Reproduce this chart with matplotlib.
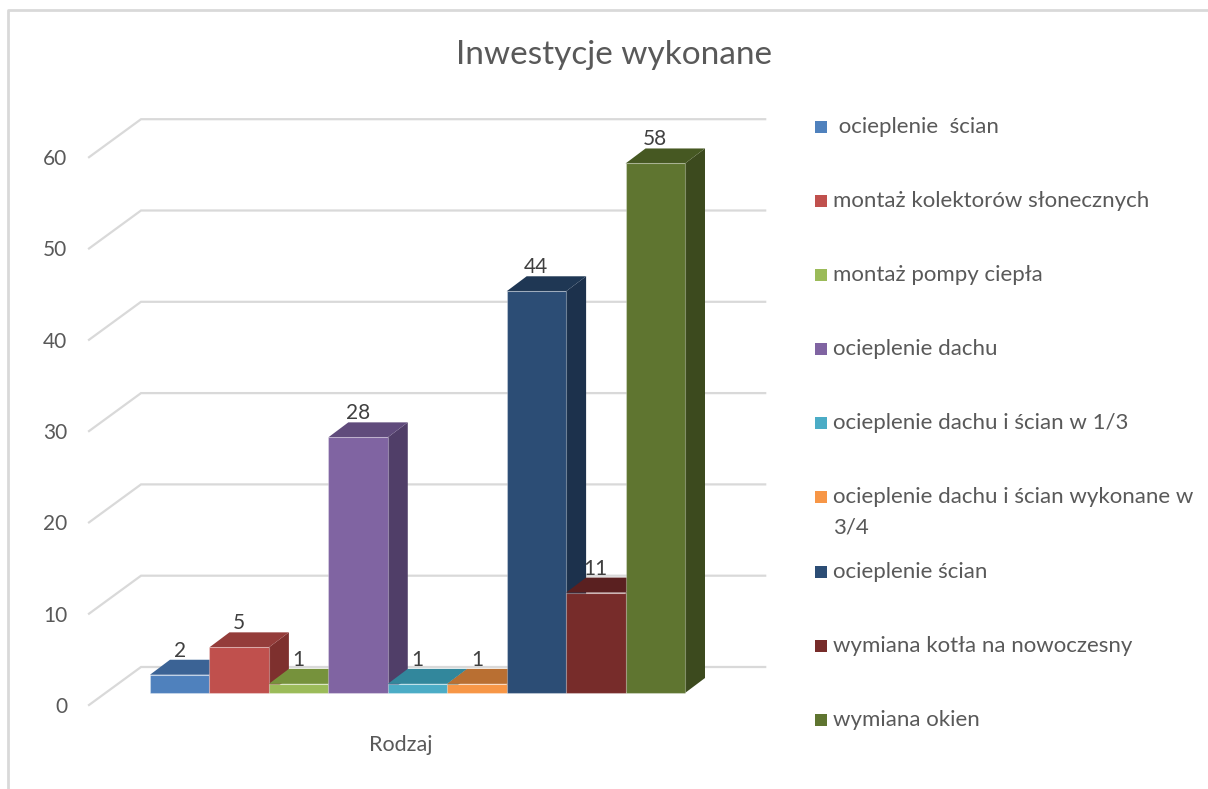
import matplotlib
matplotlib.use("Agg")
import matplotlib.pyplot as plt
from matplotlib.patches import Rectangle, Polygon
from matplotlib.lines import Line2D
from matplotlib.transforms import Affine2D, offset_copy

# ---- data -------------------------------------------------------------
title = "Inwestycje wykonane"
category = "Rodzaj"
series_names = [
    " ocieplenie  ścian",
    "montaż kolektorów słonecznych",
    "montaż pompy ciepła",
    "ocieplenie dachu",
    "ocieplenie dachu i ścian w 1/3",
    "ocieplenie dachu i ścian wykonane w\n3/4",
    "ocieplenie ścian",
    "wymiana kotła na nowoczesny",
    "wymiana okien",
]
values = [2, 5, 1, 28, 1, 1, 44, 11, 58]
y_ticks = [0, 10, 20, 30, 40, 50, 60]

front_colors = ["#4F81BD", "#C0504D", "#9BBB59", "#8064A2", "#4BACC6",
                "#F79646", "#2C4D75", "#772C2A", "#5F7530"]
top_colors = ["#3B6395", "#943C3A", "#76923C", "#604B7C", "#32879C",
              "#B96F32", "#1F3754", "#5A2020", "#465822"]
side_colors = ["#365C88", "#7E302E", "#67803A", "#503E68", "#2E7A8E",
               "#A5612B", "#1C314C", "#4E1C1B", "#3C4A1E"]

FONT = ["Lato", "DejaVu Sans"]
TXT = "#595959"

# ---- figure & helpers -------------------------------------------------
W, H = 1208, 789
fig = plt.figure(figsize=(W / 100, H / 100), dpi=100)
fig.patch.set_facecolor("white")
PX = Affine2D().scale(1 / W, -1 / H).translate(0, 1) + fig.transFigure

# plotting plane = front faces of the columns
x_left, x_right = 150, 685
y_base = 693
px_per_unit = 9.13
ymax = 60
n = len(values)
ax = fig.add_axes([x_left / W, (H - y_base) / H,
                   (x_right - x_left) / W, ymax * px_per_unit / H])
ax.set_xlim(0, n)
ax.set_ylim(0, ymax)
ax.axis("off")
px_per_slot = (x_right - x_left) / n


def depth(dx, dy):
    """screen-pixel oblique offset -> data offset"""
    return dx / px_per_slot, -dy / px_per_unit


bar_d = depth(20, -15)       # column depth
floor_front = depth(-16.4, 12)
back_wall = depth(35.6, -26)
gap = 0.75
L, R = -gap, n + gap

# ---- walls / gridlines ------------------------------------------------
for v in y_ticks:
    xs = [L + floor_front[0], L + back_wall[0], R + back_wall[0]]
    ys = [v + floor_front[1], v + back_wall[1], v + back_wall[1]]
    ax.plot(xs, ys, color="#D9D9D9", lw=1.6, clip_on=False, zorder=0,
            solid_joinstyle="miter")
    ax.text(L + floor_front[0], v + floor_front[1], str(v),
            transform=offset_copy(ax.transData, fig=fig, x=-22, y=-2, units="dots"),
            ha="right", va="center", fontsize=15, color=TXT, family=FONT)

# ---- 3D columns -------------------------------------------------------
bdx, bdy = bar_d
for i, v in enumerate(values):
    z = 2 + i
    side = Polygon([(i + 1, 0), (i + 1 + bdx, bdy), (i + 1 + bdx, v + bdy), (i + 1, v)],
                   closed=True, facecolor=side_colors[i], edgecolor="none",
                   clip_on=False, zorder=z)
    top = Polygon([(i, v), (i + bdx, v + bdy), (i + 1 + bdx, v + bdy), (i + 1, v)],
                  closed=True, facecolor=top_colors[i], edgecolor="none",
                  clip_on=False, zorder=z)
    front = Rectangle((i, 0), 1, v, facecolor=front_colors[i],
                      edgecolor=(1, 1, 1, 0.3), lw=0.8, clip_on=False, zorder=z)
    for p in (side, top, front):
        ax.add_patch(p)
    ax.text(i + 0.5, v + bdy, str(v),
            transform=offset_copy(ax.transData, fig=fig, y=3, units="dots"),
            ha="center", va="baseline", fontsize=15, color="#404040",
            family=FONT, zorder=20)

# category label under the floor
ax.text(n / 2 + floor_front[0], floor_front[1], category,
        transform=offset_copy(ax.transData, fig=fig, y=-40, units="dots"),
        ha="center", va="center", fontsize=15.5, color=TXT, family=FONT)

# ---- title ------------------------------------------------------------
fig.text(614, 55, title, transform=PX, ha="center", va="center",
         fontsize=24, color=TXT, family=FONT)

# ---- legend -----------------------------------------------------------
for k, name in enumerate(series_names):
    yc = 127 + 74.1 * k
    fig.add_artist(Rectangle((815, yc - 6), 12, 12, transform=PX,
                             facecolor=front_colors[k], edgecolor="none"))
    for j, line in enumerate(name.split("\n")):
        fig.text(833, yc + 30 * j, line, transform=PX, ha="left", va="center",
                 fontsize=16, color=TXT, family=FONT)

# ---- chart border -----------------------------------------------------
fig.add_artist(Line2D([8, 8, 1208], [789, 10, 10], transform=PX,
                      color="#D9D9D9", lw=2))

fig.savefig("out.png", dpi=100, facecolor="white")
